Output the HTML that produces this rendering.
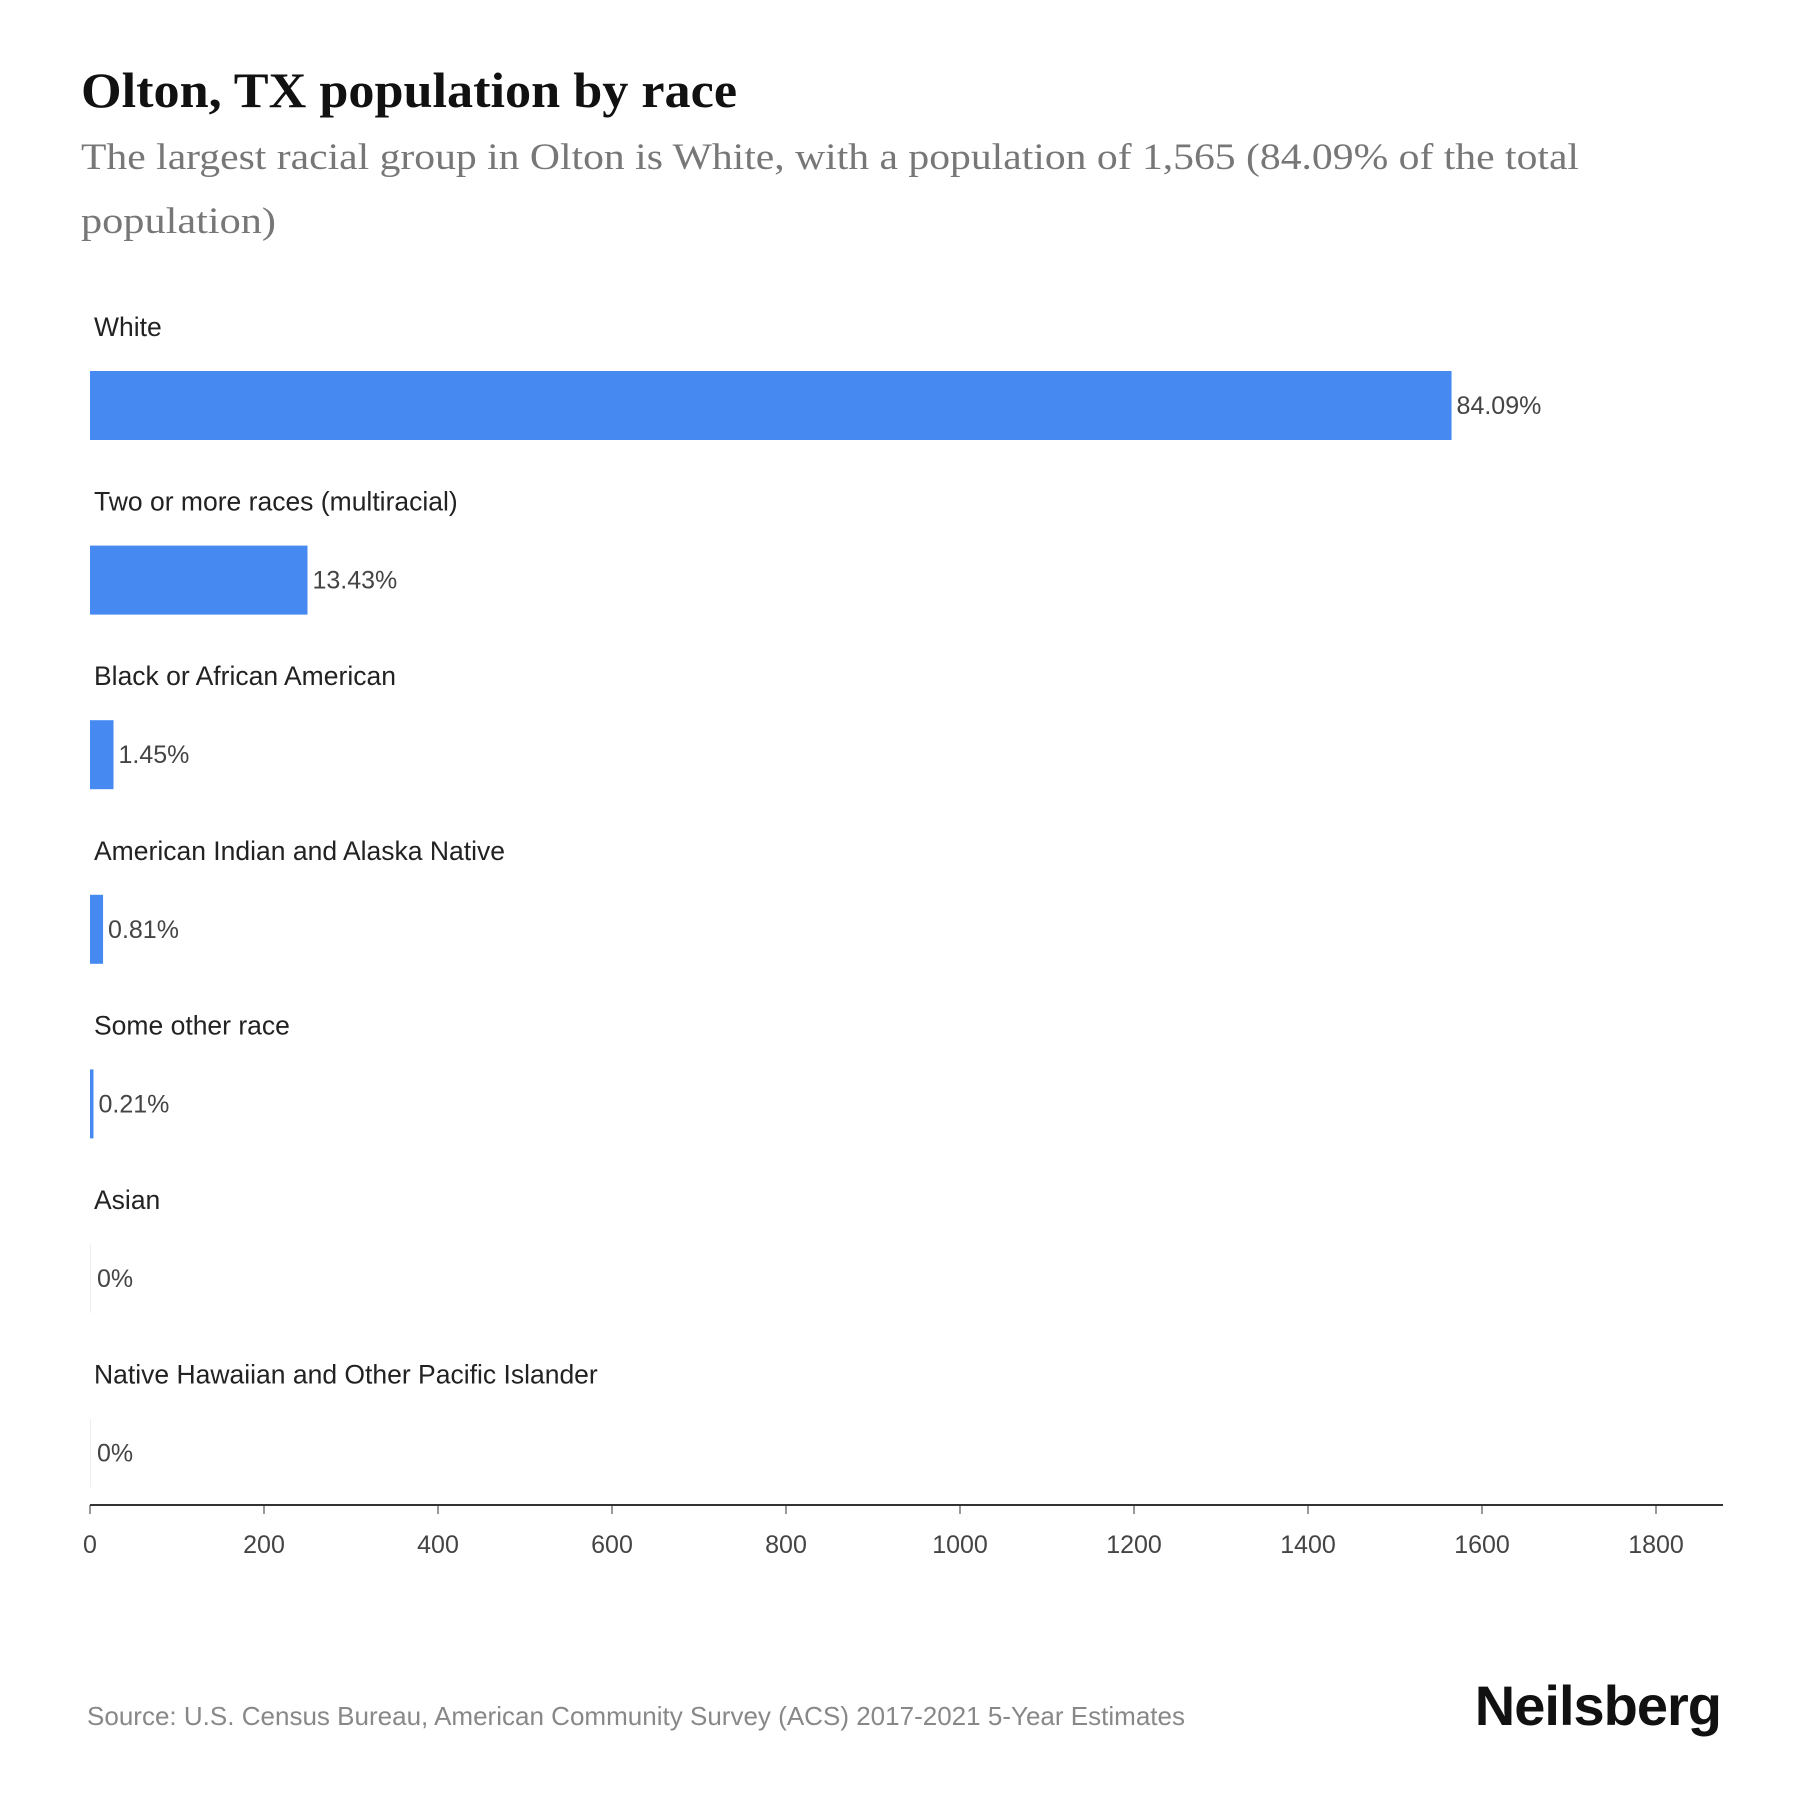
<!DOCTYPE html>
<html><head><meta charset="utf-8"><style>
body{margin:0;background:#fff;width:1800px;height:1800px;overflow:hidden}
svg text{font-family:"Liberation Sans",sans-serif}
</style></head><body>
<svg width="1800" height="1800">
<text x="81" y="107" font-weight="bold" font-size="50" fill="#111" textLength="656" lengthAdjust="spacingAndGlyphs" style="font-family:'Liberation Serif',serif">Olton, TX population by race</text>
<text x="81" y="169" font-size="37" fill="#777" textLength="1498" lengthAdjust="spacingAndGlyphs" style="font-family:'Liberation Serif',serif">The largest racial group in Olton is White, with a population of 1,565 (84.09% of the total</text>
<text x="81" y="233" font-size="37" fill="#777" textLength="195" lengthAdjust="spacingAndGlyphs" style="font-family:'Liberation Serif',serif">population)</text>
<g id="bars"></g>
<g id="axis"></g>
<text x="87" y="1725" font-size="26" fill="#888" textLength="1098" lengthAdjust="spacingAndGlyphs">Source: U.S. Census Bureau, American Community Survey (ACS) 2017-2021 5-Year Estimates</text>
<text x="1721" y="1725" text-anchor="end" font-size="56" font-weight="bold" fill="#111" style="letter-spacing:-1px">Neilsberg</text>
</svg>
<script>
const categories=["White","Two or more races (multiracial)","Black or African American","American Indian and Alaska Native","Some other race","Asian","Native Hawaiian and Other Pacific Islander"];
const values=[1565,250,27,15,4,0,0];
const percents=["84.09%","13.43%","1.45%","0.81%","0.21%","0%","0%"];
const ticks=[0,200,400,600,800,1000,1200,1400,1600,1800];
const NS="http://www.w3.org/2000/svg";
const x0=90,x1=1656,xmax=1800;
function xs(v){return x0+(x1-x0)*v/xmax;}
function rowTop(i){return 371+i*174.6;}
const bars=document.getElementById('bars');
function mk(tag,attrs,parent){const e=document.createElementNS(NS,tag);for(const k in attrs)e.setAttribute(k,attrs[k]);parent.appendChild(e);return e;}
categories.forEach((c,i)=>{
  const t=rowTop(i);
  const lab=mk('text',{x:94,y:t-35,'font-size':26.5,fill:'#222'},bars);
  lab.textContent=c;
  
  
  const w=xs(values[i])-x0;
  const r=mk('rect',{x:x0,y:t,width:values[i]>0?Math.max(w,2):1,height:69,fill:values[i]>0?'#4589f1':'#eee'},bars);
  
  
  const vl=mk('text',{x:x0+Math.max(w,2)+5,y:t+43,'font-size':25,fill:'#444'},bars);
  vl.textContent=percents[i];
  
  
});
const ax=document.getElementById('axis');
const line=mk('line',{x1:x0,x2:1723,y1:1505,y2:1505,stroke:'#333','stroke-width':2},ax);


ticks.forEach(v=>{
  const tk=mk('line',{x1:xs(v),x2:xs(v),y1:1505,y2:1514,stroke:'#333','stroke-width':1},ax);
  
  
  const tl=mk('text',{x:xs(v),y:1553,'font-size':25,fill:'#444','text-anchor':'middle'},ax);
  tl.textContent=v;
  
  
});
</script>
</body></html>
